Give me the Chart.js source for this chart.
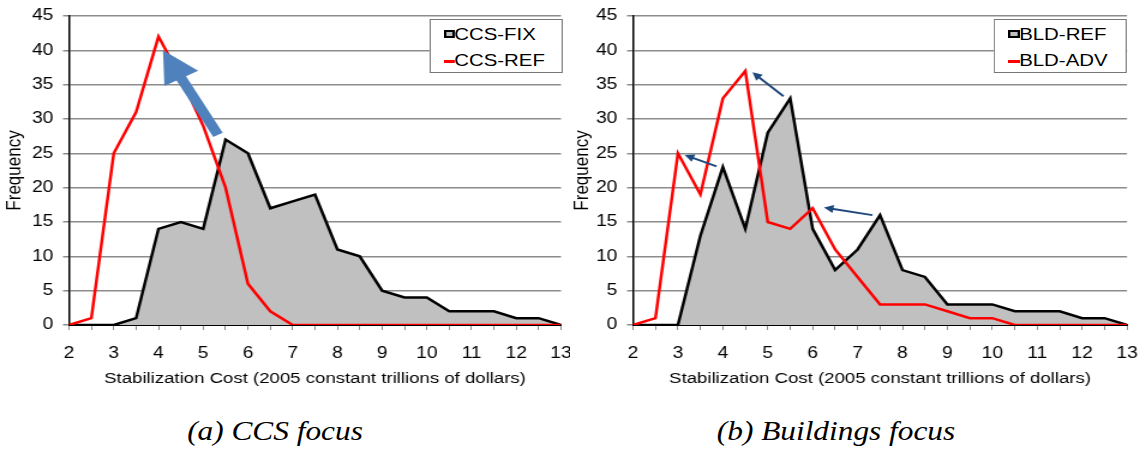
<!DOCTYPE html>
<html>
<head>
<meta charset="utf-8">
<script src="https://cdn.jsdelivr.net/npm/chart.js@4.4.1/dist/chart.umd.min.js"></script>
<style>
  body { margin: 0; background: #fff; width: 1145px; height: 458px; overflow: hidden; position: relative; }
  /* the original figure is a bit stretched sideways, so each panel is drawn narrow and scaled */
  .panel { position: absolute; top: 0; height: 400px; transform: scaleX(1.2); transform-origin: 0 0; }
  .legend { position: absolute; top: 19px; height: 52px; border: 1px solid #777; background: #fff;
            font-family: "Liberation Sans", Arial, sans-serif; font-size: 17px; color: #000; }
  .legend .row { position: absolute; left: 20px; line-height: 20px; white-space: nowrap; }
  .legend .swatch { position: absolute; left: 11px; top: 10px; width: 5.5px; height: 4px; border: 2px solid #000; background: #c0c0c0; }
  .legend .redline { position: absolute; left: 11px; top: 40px; width: 9.5px; height: 2.5px; background: #ff0000; }
  .caption { position: absolute; top: 418px; width: 400px; text-align: center; line-height: 27px;
             font-family: "Liberation Serif", "Times New Roman", serif; font-style: italic; font-size: 27px;
             transform: scaleX(1.16); transform-origin: 50% 0; }
</style>
</head>
<body>
<div class="panel" id="panelA" style="left:0px;width:475px"><canvas id="chartCcs"></canvas></div>
<div class="panel" id="panelB" style="left:570px;width:479px"><canvas id="chartBld"></canvas></div>
<div class="caption" style="left:75px">(a) CCS focus</div>
<div class="caption" style="left:636px">(b) Buildings focus</div>
<script>
// stabilization cost bins (trillions of 2005 dollars)
var costBins = [2, 2.5, 3, 3.5, 4, 4.5, 5, 5.5, 6, 6.5, 7, 7.5, 8, 8.5, 9, 9.5, 10, 10.5, 11, 11.5, 12, 12.5, 13];
var freqTicks = [0, 5, 10, 15, 20, 25, 30, 35, 40, 45];

// (a) CCS focus
var ccsNames = ['CCS-FIX', 'CCS-REF'];
var ccsFix = [0, 0, 0, 1, 14, 15, 14, 27, 25, 17, 18, 19, 11, 10, 5, 4, 4, 2, 2, 2, 1, 1, 0];
var ccsRef = [0, 1, 25, 31, 42, 36, 29, 20, 6, 2, 0, 0, 0, 0, 0, 0, 0, 0, 0, 0, 0, 0, 0];
// arrow annotations: [fromCost, fromFreq, toCost, toFreq]
var ccsArrows = [[5.33, 27.7, 4.10, 40.0]];

// (b) Buildings focus
var bldNames = ['BLD-REF', 'BLD-ADV'];
var bldRef = [0, 0, 0, 13, 23, 14, 28, 33, 14, 8, 11, 16, 8, 7, 3, 3, 3, 2, 2, 2, 1, 1, 0];
var bldAdv = [0, 1, 25, 19, 33, 37, 15, 14, 17, 11, 7, 3, 3, 3, 2, 1, 1, 0, 0, 0, 0, 0, 0];
var bldArrows = [[5.35, 33.3, 4.66, 36.8], [3.86, 23.1, 3.15, 24.75], [7.33, 16.0, 6.25, 17.1]];

var xTitle = 'Stabilization Cost (2005 constant trillions of dollars)';
var yTitle = 'Frequency';

Chart.defaults.font.family = '"Liberation Sans", Arial, sans-serif';
Chart.defaults.color = '#000';

// draws block arrows between data points
var arrowPlugin = {
  id: 'arrows',
  afterDatasetsDraw: function(chart, args, opts) {
    var ctx = chart.ctx;
    var sx = chart.scales.x, sy = chart.scales.y;
    (opts.list || []).forEach(function(a) {
      var x1 = sx.getPixelForValue(a[0]), y1 = sy.getPixelForValue(a[1]);
      var x2 = sx.getPixelForValue(a[2]), y2 = sy.getPixelForValue(a[3]);
      var len = Math.sqrt((x2 - x1) * (x2 - x1) + (y2 - y1) * (y2 - y1));
      var sw = opts.shaft / 2, hw = opts.headW / 2, hl = opts.headL;
      ctx.save();
      ctx.translate(x1, y1);
      ctx.rotate(Math.atan2(y2 - y1, x2 - x1));
      ctx.fillStyle = opts.color;
      ctx.beginPath();
      ctx.moveTo(0, -sw);
      ctx.lineTo(len - hl, -sw);
      ctx.lineTo(len - hl, -hw);
      ctx.lineTo(len, 0);
      ctx.lineTo(len - hl, hw);
      ctx.lineTo(len - hl, sw);
      ctx.lineTo(0, sw);
      ctx.closePath();
      ctx.fill();
      ctx.restore();
    });
  }
};

function points(vals) {
  return vals.map(function(v, i) { return {x: costBins[i], y: v}; });
}

function makeChart(canvasId, names, areaVals, lineVals, arrows, arrowStyle, yWidth, rightPad, yTitlePad) {
  var ctx = document.getElementById(canvasId).getContext('2d');
  return new Chart(ctx, {
    type: 'line',
    data: {
      datasets: [
        {
          label: names[0],
          data: points(areaVals),
          borderColor: '#000',
          backgroundColor: '#c0c0c0',
          borderWidth: 2.5,
          fill: 'origin',
          pointRadius: 0,
          tension: 0,
          order: 2
        },
        {
          label: names[1],
          data: points(lineVals),
          borderColor: '#ff0000',
          borderWidth: 2.5,
          fill: false,
          pointRadius: 0,
          tension: 0,
          order: 1
        }
      ]
    },
    options: {
      responsive: true,
      maintainAspectRatio: false,
      animation: false,
      events: [],
      layout: { padding: { top: 16, right: rightPad, bottom: 0, left: 0 } },
      scales: {
        x: {
          type: 'linear',
          min: 2,
          max: 13,
          afterBuildTicks: function(scale) {
            scale.ticks = costBins.map(function(v) { return {value: v}; });
          },
          afterFit: function(scale) {
            scale.height = 75;
            scale.paddingLeft = 0;
            scale.paddingRight = 0;
          },
          ticks: {
            autoSkip: false,
            maxRotation: 0,
            padding: 14,
            font: { size: 16 },
            callback: function(v) { return (v % 1 === 0) ? String(v) : ''; }
          },
          grid: { drawOnChartArea: false, drawTicks: true, tickLength: 5, color: '#8c8c8c', lineWidth: 1 },
          border: { color: '#000', width: 2 },
          title: { display: true, text: xTitle, font: { size: 15.5 }, padding: { top: 0, bottom: 12 } }
        },
        y: {
          min: 0,
          max: 45,
          afterBuildTicks: function(scale) {
            scale.ticks = freqTicks.map(function(v) { return {value: v}; });
          },
          afterFit: function(scale) {
            scale.width = yWidth;
            scale.paddingTop = 0;
            scale.paddingBottom = 0;
          },
          ticks: { padding: 8, font: { size: 16 } },
          grid: { color: '#8c8c8c', lineWidth: 1.5, tickLength: 5 },
          border: { color: '#000', width: 1.5 },
          title: { display: true, text: yTitle, font: { size: 17 }, padding: { top: yTitlePad, bottom: 0 } }
        }
      },
      plugins: {
        legend: { display: false },
        tooltip: { enabled: false },
        arrows: {
          list: arrows,
          color: arrowStyle.color,
          shaft: arrowStyle.shaft,
          headW: arrowStyle.headW,
          headL: arrowStyle.headL
        }
      }
    },
    plugins: [arrowPlugin]
  });
}

// boxed legend like the spreadsheet one, built from the series names
function addLegend(panelId, names, left) {
  var box = document.createElement('div');
  box.className = 'legend';
  box.style.left = left + 'px';
  box.style.width = '109px';
  box.innerHTML = '<span class="swatch"></span><div class="row" style="top:5px">' + names[0] + '</div>' +
                  '<span class="redline"></span><div class="row" style="top:31px">' + names[1] + '</div>';
  document.getElementById(panelId).appendChild(box);
}

makeChart('chartCcs', ccsNames, ccsFix, ccsRef, ccsArrows,
          {color: '#4f81bd', shaft: 9, headW: 32, headL: 32}, 57.5, 7.5, 2.3);
makeChart('chartBld', bldNames, bldRef, bldAdv, bldArrows,
          {color: '#1f497d', shaft: 2, headW: 8, headL: 8}, 52.5, 14.8, 0);
addLegend('panelA', ccsNames, 357.5);
addLegend('panelB', bldNames, 353.3);
</script>
</body>
</html>
